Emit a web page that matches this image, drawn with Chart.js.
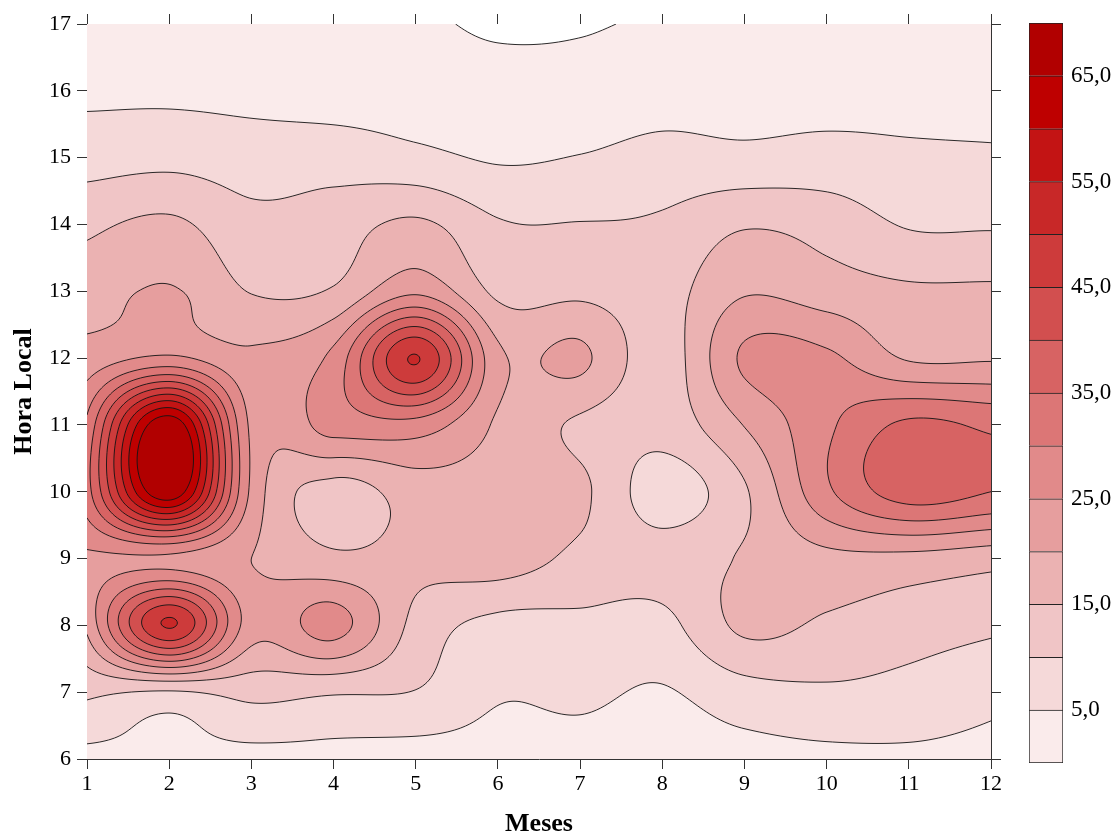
<!DOCTYPE html>
<html><head><meta charset="utf-8">
<script src="https://cdn.jsdelivr.net/npm/chart.js@4.4.1/dist/chart.umd.min.js"></script>
<style>
html,body{margin:0;padding:0;background:#fff;}
#wrap{position:relative;width:1115px;height:836px;overflow:hidden;}
#main{position:absolute;left:0;top:0;}
#cb{position:absolute;left:1000px;top:0;}
</style></head><body>
<div id="wrap"><canvas id="main" width="1115" height="836"></canvas><canvas id="cb" width="115" height="836"></canvas></div>
<script>
// ---- data (values at each month, for hours 6..17) ----
const meses = [1,2,3,4,5,6,7,8,9,10,11,12];
const horas = [6,7,8,9,10,11,12,13,14,15,16,17];
const m01 = [3.3, 11, 21, 24, 33, 31, 22, 17.5, 14, 7.8, 4, 1.5];
const m02 = [3.3, 9.5, 50.5, 24, 69, 69, 26, 20.5, 16, 8.5, 4, 1.5];
const m03 = [3, 11.5, 22.5, 20, 24, 24, 21, 14.8, 11.5, 7.5, 3.5, 1.5];
const m04 = [3, 10.5, 27, 16, 13, 27, 26.5, 15.5, 12.5, 7.8, 2.5, 1];
const m05 = [2.3, 9.8, 13.5, 16.5, 17.5, 28, 50.3, 24, 16, 6.3, 2.5, 0.8];
const m06 = [3.2, 5.5, 8.5, 17.5, 18, 19.3, 21.3, 14, 10.5, 4.5, 2, -0.8];
const m07 = [3, 6, 8.8, 13.8, 16, 14.2, 21, 14, 10.2, 5.2, 2, -0.5];
const m08 = [2.5, 4.6, 8.6, 12, 7.5, 12, 12.5, 13, 10.8, 6.5, 3, 0.7];
const m09 = [2.8, 8, 16, 15.5, 14.4, 20.2, 25.8, 19.5, 14.5, 6.3, 2.8, 1.2];
const m10 = [3.5, 9.2, 14.2, 18.5, 29, 29, 26, 17.5, 13, 6.9, 2.8, 1.5];
const m11 = [3.9, 8.3, 12.5, 18.5, 37.5, 36, 19.5, 15.8, 9.6, 6, 3, 1.5];
const m12 = [3.4, 6.4, 11, 17, 35, 34, 19.5, 15.8, 9.5, 5.7, 3, 1.5];
const colunas = [m01,m02,m03,m04,m05,m06,m07,m08,m09,m10,m11,m12];
const niveis = [0,5,10,15,20,25,30,35,40,45,50,55,60,65,70];
const cores = ['#faebeb','#f5d9d9','#f0c5c6','#ebb2b2','#e69e9e','#e18a8a','#dc7676','#d76363','#d24f4f','#cd3b3b','#c82828','#c31414','#be0000','#b10000'];
const rotulosBarra = [5,15,25,35,45,55,65];

const FONT = 'Liberation Serif, Times New Roman, serif';
Chart.defaults.font.family = FONT;

// ---- bicubic (Catmull-Rom) field over the data grid ----
function G(i, j) {
  const ni = meses.length, nj = horas.length;
  if (i < 0) return 2*G(0,j) - G(1,j);
  if (i >= ni) return 2*G(ni-1,j) - G(ni-2,j);
  if (j < 0) return 2*G(i,0) - G(i,1);
  if (j >= nj) return 2*G(i,nj-1) - G(i,nj-2);
  return colunas[i][j];
}
function cr(p0,p1,p2,p3,t){
  return 0.5*((2*p1)+(-p0+p2)*t+(2*p0-5*p1+4*p2-p3)*t*t+(-p0+3*p1-3*p2+p3)*t*t*t);
}
function campo(m, h) {
  const u = (m - meses[0]), v = (h - horas[0]);
  let i = Math.floor(u), j = Math.floor(v);
  i = Math.max(0, Math.min(meses.length-2, i));
  j = Math.max(0, Math.min(horas.length-2, j));
  const t = u - i, s = v - j;
  const r = [];
  for (let dj=-1; dj<=2; dj++) r.push(cr(G(i-1,j+dj),G(i,j+dj),G(i+1,j+dj),G(i+2,j+dj),t));
  return cr(r[0],r[1],r[2],r[3],s);
}
function hex(c){return [parseInt(c.slice(1,3),16),parseInt(c.slice(3,5),16),parseInt(c.slice(5,7),16)];}
const coresRGB = cores.map(hex);

const contourPlugin = {
  id: 'contour',
  beforeDatasetsDraw(chart) {
    const ctx = chart.ctx, xs = chart.scales.x, ys = chart.scales.y;
    const {left, top, right, bottom} = chart.chartArea;
    const w = Math.round(right-left), h = Math.round(bottom-top);
    const off = document.createElement('canvas'); off.width = w; off.height = h;
    const octx = off.getContext('2d');
    const img = octx.createImageData(w, h);
    const mx = new Float64Array(w), hy = new Float64Array(h);
    for (let p=0;p<w;p++) mx[p] = xs.getValueForPixel(left+p+0.5);
    for (let q=0;q<h;q++) hy[q] = ys.getValueForPixel(top+q+0.5);
    for (let q=0;q<h;q++) for (let p=0;p<w;p++) {
      const val = campo(mx[p], hy[q]);
      let rgb;
      if (val < niveis[0]) rgb = [255,255,255];
      else { let k = Math.floor((val-niveis[0])/5); k = Math.min(cores.length-1,k); rgb = coresRGB[k]; }
      const o = (q*w+p)*4; img.data[o]=rgb[0]; img.data[o+1]=rgb[1]; img.data[o+2]=rgb[2]; img.data[o+3]=255;
    }
    octx.putImageData(img,0,0);
    ctx.drawImage(off, left, top);
    const step = 2;
    const nx = Math.ceil(w/step)+1, ny = Math.ceil(h/step)+1;
    const px = [], py = [];
    for (let i=0;i<nx;i++) px.push(Math.min(right, left+i*step));
    for (let j=0;j<ny;j++) py.push(Math.min(bottom, top+j*step));
    const F = [];
    for (let j=0;j<ny;j++){ const row=new Float64Array(nx); const hh=ys.getValueForPixel(py[j]); for(let i=0;i<nx;i++) row[i]=campo(xs.getValueForPixel(px[i]),hh); F.push(row);}    
    ctx.save();
    ctx.beginPath(); ctx.rect(left, top, right-left, bottom-top); ctx.clip();
    ctx.strokeStyle = 'rgba(20,20,20,0.9)'; ctx.lineWidth = 1;
    for (const L of niveis.slice(0, niveis.length-1)) {
      ctx.beginPath();
      for (let j=0;j<ny-1;j++) for (let i=0;i<nx-1;i++) {
        const a=F[j][i], b=F[j][i+1], c=F[j+1][i+1], d=F[j+1][i];
        const A=a>=L,B=b>=L,C=c>=L,D=d>=L;
        if ((A===B)&&(B===C)&&(C===D)) continue;
        const x0=px[i],x1=px[i+1],y0=py[j],y1=py[j+1];
        const e = {};
        if (A!==B) e.t=[x0+(L-a)/(b-a)*(x1-x0), y0];
        if (B!==C) e.r=[x1, y0+(L-b)/(c-b)*(y1-y0)];
        if (D!==C) e.b=[x0+(L-d)/(c-d)*(x1-x0), y1];
        if (A!==D) e.l=[x0, y0+(L-a)/(d-a)*(y1-y0)];
        const ks = Object.keys(e);
        if (ks.length===2) { ctx.moveTo(e[ks[0]][0],e[ks[0]][1]); ctx.lineTo(e[ks[1]][0],e[ks[1]][1]); }
        else if (ks.length===4) {
          const cen=(a+b+c+d)/4;
          if ((cen>=L)===A) { ctx.moveTo(...e.t); ctx.lineTo(...e.r); ctx.moveTo(...e.b); ctx.lineTo(...e.l); }
          else { ctx.moveTo(...e.t); ctx.lineTo(...e.l); ctx.moveTo(...e.r); ctx.lineTo(...e.b); }
        }
      }
      ctx.stroke();
    }
    ctx.restore();
  }
};

const pontos = [];
meses.forEach((m,i)=>horas.forEach((h,j)=>pontos.push({x:m,y:h,v:colunas[i][j]})));

const tickFont = {family: FONT, size: 22};
const titleFont = {family: FONT, size: 26, weight: 'bold', lineHeight: 0.9};
const gridOpt = {drawOnChartArea:false, tickLength:10, color:'#333', lineWidth:1};
const borderOpt = {color:'#333', width:1};

new Chart(document.getElementById('main'), {
  type: 'scatter',
  data: { datasets: [{ data: pontos, pointRadius: 0, pointHoverRadius: 0 }] },
  options: {
    responsive:false, animation:false, devicePixelRatio:1,
    plugins:{legend:{display:false}, tooltip:{enabled:false}},
    layout:{padding:0},
    scales:{
      x:{type:'linear', position:'bottom', min:1, max:12, z:1,
        ticks:{stepSize:1, font:tickFont, color:'#000', padding:2, maxRotation:0, autoSkip:false},
        grid:gridOpt, border:borderOpt,
        title:{display:true, text:'Meses', font:titleFont, color:'#000', padding:{top:0,bottom:0}},
        afterFit:s=>{s.height=77;}},
      x2:{type:'linear', position:'top', min:1, max:12, z:1,
        ticks:{stepSize:1, display:false}, grid:gridOpt, border:borderOpt,
        afterFit:s=>{s.height=24;}},
      y:{type:'linear', position:'left', min:6, max:17, z:1,
        ticks:{stepSize:1, font:tickFont, color:'#000', padding:6, autoSkip:false},
        grid:gridOpt, border:borderOpt,
        title:{display:true, text:'Hora Local', font:titleFont, color:'#000', padding:{top:13,bottom:0}},
        afterFit:s=>{s.width=87;}},
      y2:{type:'linear', position:'right', min:6, max:17, z:1,
        ticks:{stepSize:1, display:false}, grid:gridOpt, border:borderOpt,
        afterFit:s=>{s.width=124;}}
    }
  },
  plugins:[contourPlugin]
});

// ---- colour bar ----
new Chart(document.getElementById('cb'), {
  type:'bar',
  data:{ labels:[''], datasets: cores.map((c,k)=>({
    data:[niveis[k+1]-niveis[k]], backgroundColor:c, borderColor:'#222',
    borderWidth:{top:1,left:1,right:1,bottom:k===0?1:0}, borderSkipped:false,
    barPercentage:1, categoryPercentage:1 })) },
  options:{
    responsive:false, animation:false, devicePixelRatio:1,
    plugins:{legend:{display:false}, tooltip:{enabled:false}},
    layout:{padding:{left:29, top:23, bottom:73, right:0}},
    scales:{
      x:{display:false, stacked:true},
      y:{stacked:true, position:'right', min:0, max:70,
        grid:{display:false}, border:{display:false},
        ticks:{padding:0, font:{family:FONT, size:23}, color:'#000',
          callback:v=>Number(v).toFixed(1).replace('.', ',')},
        afterBuildTicks:s=>{s.ticks = rotulosBarra.map(v=>({value:v}));},
        afterFit:s=>{s.width=52;}}
    }
  }
});
</script>
</body></html>
